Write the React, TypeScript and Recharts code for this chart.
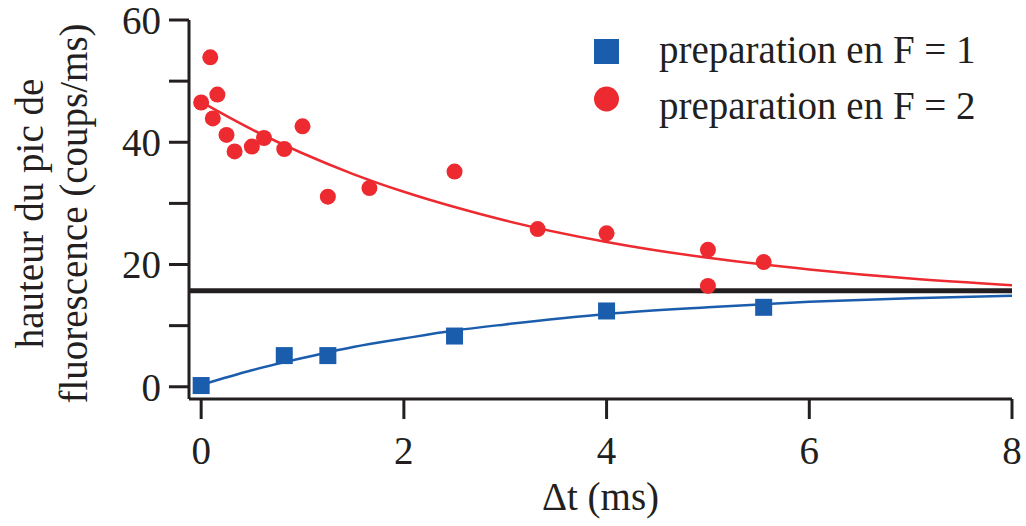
import React from 'react';
import { ComposedChart, Line, Scatter, XAxis, YAxis, ReferenceLine, Legend, Label } from 'recharts';

// Measured points, preparation in F = 1 (blue squares)
const f1X = [0, 0.82, 1.25, 2.5, 4, 5.55];
const f1Y = [0.2, 5.1, 5.1, 8.3, 12.4, 13.0];

// Measured points, preparation in F = 2 (red circles)
const f2X = [0, 0.09, 0.115, 0.16, 0.25, 0.33, 0.5, 0.62, 0.82, 1.0, 1.25, 1.66, 2.5, 3.32, 4.0, 5.0, 5.0, 5.55];
const f2Y = [46.5, 53.9, 43.9, 47.8, 41.2, 38.5, 39.3, 40.7, 38.9, 42.6, 31.1, 32.5, 35.2, 25.8, 25.1, 22.4, 16.5, 20.4];

// Fitted curves
const fitX = [0, 0.5, 1, 1.5, 2, 2.5, 3, 4, 5, 6, 7, 8];
const fit1Y = [0.3, 2.7, 4.7, 6.5, 7.9, 9.2, 10.2, 11.9, 13.0, 13.9, 14.5, 14.9];
const fit2Y = [46.6, 42.1, 38.2, 34.8, 31.9, 29.4, 27.2, 23.7, 21.1, 19.2, 17.7, 16.6];

// Horizontal level
const plateau = 15.7;

const xTicks = [0, 2, 4, 6, 8];
const yTicks = [0, 10, 20, 30, 40, 50, 60];
const yLabelled = [0, 20, 40, 60];

const legendLabels = ['preparation en F = 1', 'preparation en F = 2'];

const BLUE = '#1b5dad';
const RED = '#ec2a30';
const INK = '#231f20';
const FONT = "'Liberation Serif', 'Times New Roman', Times, 'DejaVu Serif', 'Noto Serif', Tinos, 'Nimbus Roman', FreeSerif, serif";

const f1Data = f1X.map((x, i) => ({ x, y: f1Y[i] }));
const f2Data = f2X.map((x, i) => ({ x, y: f2Y[i] }));
const fit1Data = fitX.map((x, i) => ({ x, y: fit1Y[i] }));
const fit2Data = fitX.map((x, i) => ({ x, y: fit2Y[i] }));

const SquareShape = (p: any) => (
  <rect x={p.cx - 8.5} y={p.cy - 8.5} width={17} height={17} fill={BLUE} />
);
const CircleShape = (p: any) => <circle cx={p.cx} cy={p.cy} r={8} fill={RED} />;

const textStyle = { fontFamily: FONT, fontSize: 39, fill: INK } as const;

const LegendContent = () => (
  <svg width={420} height={120} style={{ display: 'block', overflow: 'visible' }}>
    <rect x={14} y={19} width={25} height={25} fill={BLUE} />
    <circle cx={26.5} cy={79} r={12.5} fill={RED} />
    <text x={79} y={43} style={textStyle}>{legendLabels[0]}</text>
    <text x={79} y={99} style={textStyle}>{legendLabels[1]}</text>
  </svg>
);

const YTitle = (props: any) => {
  const vb = props.viewBox || { x: 0, y: 20, width: 189, height: 379 };
  const cy = vb.y + vb.height / 2 + 4;
  const x1 = vb.x + 43;
  const x2 = vb.x + 87;
  return (
    <g>
      <text x={x1} y={cy} transform={`rotate(-90, ${x1}, ${cy})`} textAnchor="middle" style={textStyle}>
        hauteur du pic de
      </text>
      <text x={x2} y={cy} transform={`rotate(-90, ${x2}, ${cy})`} textAnchor="middle" style={textStyle}>
        fluorescence (coups/ms)
      </text>
    </g>
  );
};

const XTitle = (props: any) => {
  const vb = props.viewBox || { x: 189, y: 399, width: 823, height: 127 };
  return (
    <text x={vb.x + vb.width / 2} y={vb.y + 111} textAnchor="middle" style={textStyle}>
      Δt (ms)
    </text>
  );
};

export default function App() {
  return (
    <div style={{ position: 'absolute', left: 0, top: 0, width: 1026, height: 526, background: '#fff' }}>
      <ComposedChart width={1026} height={526} margin={{ top: 20, right: 14, bottom: 0, left: 0 }} style={{ fontFamily: FONT }}>
        <XAxis
          dataKey="x"
          type="number"
          domain={[-0.12, 8]}
          allowDataOverflow
          ticks={xTicks}
          interval={0}
          height={127}
          tickSize={20}
          tickMargin={17}
          axisLine={{ stroke: INK, strokeWidth: 3 }}
          tickLine={{ stroke: INK, strokeWidth: 3 }}
          tick={{ fontSize: 39, fill: INK, fontFamily: FONT, style: { fontFamily: FONT } }}
        >
          <Label content={XTitle} />
        </XAxis>
        <YAxis
          dataKey="y"
          type="number"
          domain={[-2, 60]}
          allowDataOverflow
          ticks={yTicks}
          interval={0}
          width={189}
          tickSize={20}
          tickMargin={8}
          tickFormatter={(v: number) => (yLabelled.includes(v) ? String(v) : '')}
          axisLine={{ stroke: INK, strokeWidth: 3 }}
          tickLine={{ stroke: INK, strokeWidth: 3 }}
          tick={{ fontSize: 39, fill: INK, fontFamily: FONT, style: { fontFamily: FONT } }}
        >
          <Label content={YTitle} />
        </YAxis>
        <Line data={fit1Data} dataKey="y" type="monotone" stroke={BLUE} strokeWidth={2.5} dot={false} isAnimationActive={false} legendType="none" />
        <Line data={fit2Data} dataKey="y" type="monotone" stroke={RED} strokeWidth={2.5} dot={false} isAnimationActive={false} legendType="none" />
        <Scatter data={f1Data} dataKey="y" shape={SquareShape} isAnimationActive={false} />
        <Scatter data={f2Data} dataKey="y" shape={CircleShape} isAnimationActive={false} />
        <ReferenceLine y={plateau} stroke={INK} strokeWidth={5} />
        <Legend
          layout="vertical"
          align="center"
          verticalAlign="middle"
          content={LegendContent}
          wrapperStyle={{ position: 'absolute', left: 580, top: 20, width: 420, height: 120 }}
        />
      </ComposedChart>
    </div>
  );
}
